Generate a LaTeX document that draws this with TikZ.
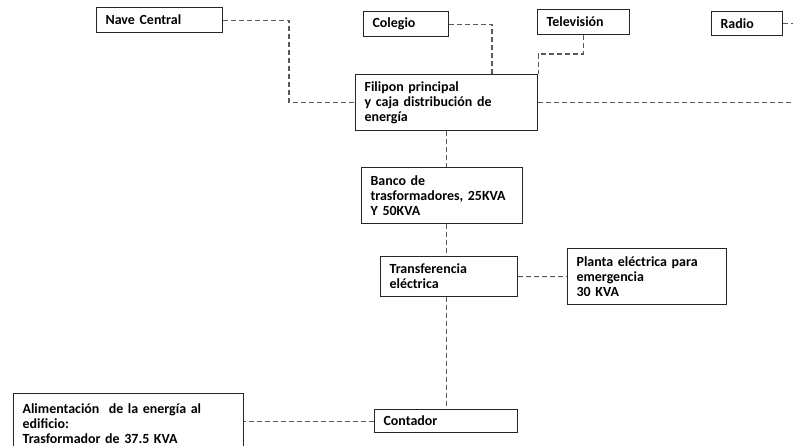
\documentclass[tikz,border=0pt]{standalone}
\usepackage{fontspec}
\setmainfont{Carlito}
\begin{document}
\begin{tikzpicture}[x=1bp,y=-1bp,
  box/.style={draw=black!85, line width=1.2bp, anchor=north west, align=left,
    inner xsep=9bp, inner ysep=0pt, font=\fontsize{14}{15}\selectfont\bfseries},
  link/.style={draw=black!65, line width=1.1bp, dash pattern=on 5bp off 3bp}]
\useasboundingbox (0,0) rectangle (793,446);
\clip (0,0) rectangle (793,446);
\fill[white] (0,0) rectangle (793,446);

% boxes of the distribution chain
\node[box, text width=108bp, minimum height=25bp] (nave) at (96,7) {Nave Central};
\node[box, text width=67bp, minimum height=25bp] (col) at (363,11) {Colegio};
\node[box, text width=74bp, minimum height=25bp] (tv) at (537,9) {Televisión};
\node[box, text width=53bp, minimum height=24bp] (radio) at (711,11) {Radio};
\node[box, text width=164bp, minimum height=56bp] (fil) at (355,74)
  {Filipon principal\\y caja distribución de\\energía};
\node[box, text width=143bp, minimum height=56bp] (banco) at (361,167)
  {Banco de\\trasformadores, 25KVA\\Y 50KVA};
\node[box, text width=119bp, minimum height=40bp] (trans) at (380,256)
  {Transferencia\\eléctrica};
\node[box, text width=141bp, minimum height=56bp] (planta) at (567,248)
  {Planta eléctrica para\\emergencia\\30 KVA};
\node[box, text width=125bp, minimum height=23bp] (cont) at (374,409) {Contador};
\node[box, text width=212bp, minimum height=60bp] (alim) at (13,393)
  {Alimentación~ de la energía al\\edificio:\\Trasformador de 37.5 KVA};

\coordinate (rightedge) at (800,0);

% dashed feeders
\draw[link] (nave.east) -- (nave.east -| 289,0) |- (fil.west);
\draw[link] (col.east) -| (fil.north -| 492,0);
\draw[link] (tv.south) |- (fil.north east |- 0,54) -- (fil.north east);
\draw[link] (radio.east) -- (radio.east -| rightedge);
\draw[link] (fil.east) -- (fil.east -| rightedge);
\draw[link] (fil.south) -- (banco.north -| fil.south);
\draw[link] (banco.south -| fil.south) -- (trans.north -| fil.south);
\draw[link] (trans.east) -- (planta.west);
\draw[link] (trans.south -| fil.south) -- (cont.north -| fil.south);
\draw[link] (cont.west) -- (cont.west -| alim.east);
\end{tikzpicture}
\end{document}
